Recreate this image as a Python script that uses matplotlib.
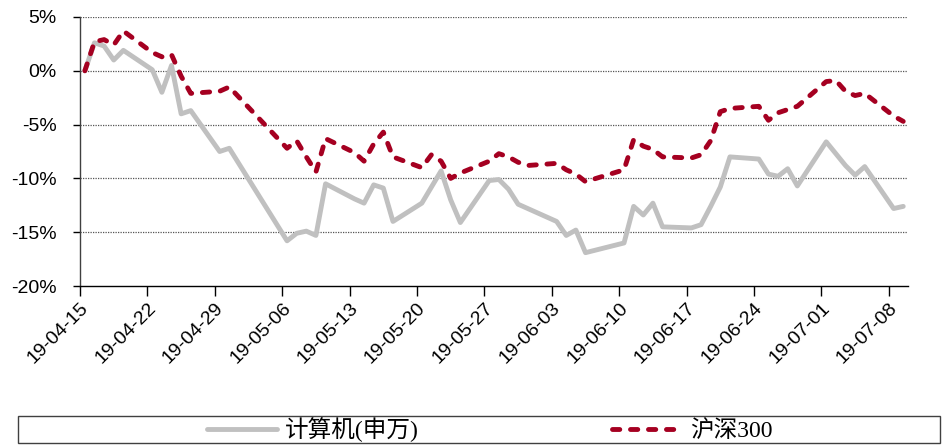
import matplotlib
matplotlib.use("Agg")
import matplotlib.pyplot as plt
import matplotlib.dates as mdates
from matplotlib.patches import Rectangle
import pandas as pd

# 交易日
dates = [
    "2019-04-15", "2019-04-16", "2019-04-17", "2019-04-18", "2019-04-19",
    "2019-04-22", "2019-04-23", "2019-04-24", "2019-04-25", "2019-04-26",
    "2019-04-29", "2019-04-30",
    "2019-05-06", "2019-05-07", "2019-05-08", "2019-05-09", "2019-05-10",
    "2019-05-13", "2019-05-14", "2019-05-15", "2019-05-16", "2019-05-17",
    "2019-05-20", "2019-05-21", "2019-05-22", "2019-05-23", "2019-05-24",
    "2019-05-27", "2019-05-28", "2019-05-29", "2019-05-30", "2019-05-31",
    "2019-06-03", "2019-06-04", "2019-06-05", "2019-06-06",
    "2019-06-10", "2019-06-11", "2019-06-12", "2019-06-13", "2019-06-14",
    "2019-06-17", "2019-06-18", "2019-06-19", "2019-06-20", "2019-06-21",
    "2019-06-24", "2019-06-25", "2019-06-26", "2019-06-27", "2019-06-28",
    "2019-07-01", "2019-07-02", "2019-07-03", "2019-07-04", "2019-07-05",
    "2019-07-08", "2019-07-09",
]

# 计算机(申万) 累计涨跌幅 %
computer = [
    0.0, 2.6, 2.3, 1.0, 1.9,
    0.1, -2.0, 0.5, -4.0, -3.7,
    -7.5, -7.2,
    -15.8, -15.1, -14.9, -15.3, -10.5,
    -11.9, -12.3, -10.6, -10.9, -14.0,
    -12.3, -10.8, -9.3, -12.0, -14.1,
    -10.2, -10.1, -11.0, -12.4, -12.8,
    -14.0, -15.3, -14.8, -16.9,
    -16.0, -12.6, -13.4, -12.3, -14.5,
    -14.6, -14.3, -12.6, -10.8, -8.0,
    -8.2, -9.6, -9.8, -9.1, -10.7,
    -6.6, -7.7, -8.8, -9.7, -8.9,
    -12.8, -12.6,
]

# 沪深300 累计涨跌幅 %
hs300 = [
    0.0, 2.7, 2.9, 2.4, 3.7,
    1.7, 1.3, 1.5, -0.5, -2.1,
    -1.9, -1.5,
    -7.2, -6.5, -8.0, -9.4, -6.3,
    -7.6, -8.4, -6.8, -5.7, -8.0,
    -9.0, -7.8, -8.4, -10.0, -9.5,
    -8.4, -7.7, -8.0, -8.5, -8.8,
    -8.6, -9.2, -9.6, -10.3,
    -9.2, -6.4, -7.0, -7.3, -8.0,
    -8.1, -7.8, -6.5, -3.8, -3.5,
    -3.3, -4.6, -3.9, -3.6, -3.3,
    -1.0, -0.9, -1.9, -2.3, -2.1,
    -4.2, -4.7,
]

yticks = [5, 0, -5, -10, -15, -20]
labels = ["计算机(申万)", "沪深300"]

plt.rcParams["font.family"] = ["Liberation Sans", "Noto Sans CJK SC"]

x = pd.to_datetime(dates) + pd.Timedelta(hours=12)

fig = plt.figure(figsize=(9.45, 4.46), dpi=100)
ax = fig.add_axes([0.0847, 0.3587, 0.8762, 0.6032])

ax.plot(x, computer, color="#C0C0C0", lw=3.5, solid_joinstyle="round",
        solid_capstyle="round", label=labels[0], zorder=3)
ax.plot(x, hs300, color="#A50021", lw=3.5, dashes=(1.5, 2.2),
        dash_capstyle="round", dash_joinstyle="round", label=labels[1], zorder=4)

ax.set_ylim(-20, 5)
ax.set_yticks(yticks)
ax.set_yticklabels([f"{v}%" for v in yticks])
ax.set_xlim(pd.Timestamp("2019-04-15"), pd.Timestamp("2019-07-10"))
ax.set_xticks(pd.date_range("2019-04-15", "2019-07-08", freq="7D"))
ax.xaxis.set_major_formatter(mdates.DateFormatter("%y-%m-%d"))

for v in yticks[:-1]:
    ax.axhline(v, color="#555555", lw=0.9, ls=(0, (1, 1)), zorder=1)

for s in ["top", "right"]:
    ax.spines[s].set_visible(False)
ax.spines["left"].set_color("#404040")
ax.spines["bottom"].set_color("#000000")
ax.spines["left"].set_linewidth(1.0)
ax.spines["bottom"].set_linewidth(1.0)

ax.tick_params(axis="y", length=5, width=1, pad=12, labelsize=14, colors="#000000")
ax.tick_params(axis="x", length=7, width=1, pad=3, labelsize=14)
for lab in ax.get_xticklabels():
    lab.set_rotation(45)
    lab.set_ha("right")
    lab.set_va("top")
    lab.set_rotation_mode("anchor")

# 图例外框
fig.patches.append(Rectangle((18 / 945, 3 / 446), 922 / 945, 27 / 446,
                             transform=fig.transFigure, fill=False,
                             edgecolor="#404040", lw=1.0))
fig.legend(loc="center left", bbox_to_anchor=(207 / 945, 16 / 446), ncol=2,
           frameon=False, handlelength=2.95, handletextpad=0.35,
           columnspacing=8.2, borderpad=0, borderaxespad=0,
           prop={"family": ["Liberation Serif", "Noto Sans CJK SC"], "size": 17})

fig.savefig("out.png", dpi=100)
